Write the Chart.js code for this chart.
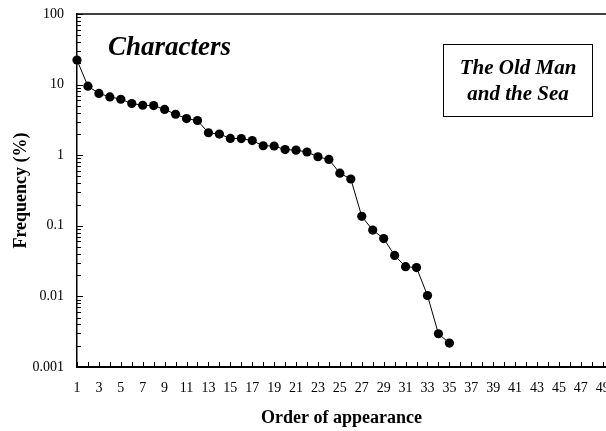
<!DOCTYPE html>
<html>
<head>
<meta charset="utf-8">
<title>Characters — The Old Man and the Sea</title>
<script src="https://cdn.jsdelivr.net/npm/chart.js@4/dist/chart.umd.min.js"></script>
<style>
  html, body { margin: 0; padding: 0; background: #fff; overflow: hidden; }
  canvas { display: block; }
</style>
</head>
<body>
<canvas id="chart" width="606" height="431"></canvas>
<script>
// Order in which each character first appears
const order = [1, 2, 3, 4, 5, 6, 7, 8, 9, 10, 11, 12, 13, 14, 15, 16, 17, 18,
  19, 20, 21, 22, 23, 24, 25, 26, 27, 28, 29, 30, 31, 32, 33, 34, 35];

// Frequency of each character (%)
const frequency = [22.3, 9.5, 7.5, 6.7, 6.2, 5.4, 5.1, 5.05, 4.45, 3.8, 3.3, 3.1,
  2.08, 1.99, 1.73, 1.72, 1.61, 1.36, 1.35, 1.2, 1.18, 1.11, 0.95, 0.87,
  0.556, 0.46, 0.136, 0.087, 0.066, 0.038, 0.0264, 0.0256, 0.0103, 0.00296, 0.00218];

// Decade labels on the frequency axis
const yTickValues = [0.001, 0.01, 0.1, 1, 10, 100];
const yTickLabels = ['0.001', '0.01', '0.1', '1', '10', '100'];

const panelTitle = 'Characters';
const bookTitle = ['The Old Man', 'and the Sea'];

const SERIF = '"Liberation Serif", "Times New Roman", serif';

// Inward tick marks, top frame line and the text annotations
const frameAndNotes = {
  id: 'frameAndNotes',
  afterDraw(chart) {
    const ctx = chart.ctx;
    const area = chart.chartArea;
    const xs = chart.scales.x;
    const ys = chart.scales.y;
    ctx.save();
    ctx.strokeStyle = '#000';

    // top frame line
    ctx.lineWidth = 1.5;
    ctx.beginPath();
    ctx.moveTo(area.left, area.top);
    ctx.lineTo(chart.width, area.top);
    ctx.stroke();

    // x tick marks pointing up into the plot
    ctx.lineWidth = 1;
    ctx.beginPath();
    xs.ticks.forEach(t => {
      const px = Math.round(xs.getPixelForValue(t.value)) + 0.5;
      ctx.moveTo(px, area.bottom);
      ctx.lineTo(px, area.bottom - 5);
    });
    ctx.stroke();

    // y tick marks pointing right into the plot
    ctx.beginPath();
    for (let e = -3; e <= 2; e++) {
      const base = Math.pow(10, e);
      const py = Math.round(ys.getPixelForValue(base)) + 0.5;
      ctx.moveTo(area.left, py);
      ctx.lineTo(area.left + 6, py);
      if (e < 2) {
        for (let m = 2; m <= 9; m++) {
          const my = Math.round(ys.getPixelForValue(m * base)) + 0.5;
          ctx.moveTo(area.left, my);
          ctx.lineTo(area.left + 4, my);
        }
      }
    }
    ctx.stroke();

    // panel title
    ctx.fillStyle = '#000';
    ctx.textBaseline = 'alphabetic';
    ctx.textAlign = 'left';
    ctx.font = 'italic bold 27px ' + SERIF;
    ctx.fillText(panelTitle, 108, 55);

    // book title box
    ctx.lineWidth = 1;
    ctx.strokeRect(443.5, 44.5, 149, 72);
    ctx.textAlign = 'center';
    ctx.font = 'italic bold 21px ' + SERIF;
    ctx.fillText(bookTitle[0], 518, 74);
    ctx.fillText(bookTitle[1], 518, 100);
    ctx.restore();
  }
};

new Chart(document.getElementById('chart'), {
  type: 'line',
  data: {
    datasets: [{
      data: order.map((o, i) => ({ x: o, y: frequency[i] })),
      borderColor: '#000',
      borderWidth: 1,
      backgroundColor: '#000',
      pointBackgroundColor: '#000',
      pointBorderColor: '#000',
      pointBorderWidth: 0,
      pointRadius: 4.6,
      tension: 0,
      fill: false,
      clip: false
    }]
  },
  options: {
    responsive: false,
    devicePixelRatio: 1,
    animation: false,
    layout: { autoPadding: false, padding: { top: 14, right: 0, bottom: 0, left: 0 } },
    plugins: {
      legend: { display: false },
      tooltip: { enabled: false }
    },
    scales: {
      x: {
        type: 'linear',
        bounds: 'data',
        min: 1,
        max: 49.3,
        grid: { display: false, drawTicks: false },
        border: { display: true, color: '#000', width: 2 },
        ticks: {
          stepSize: 1,
          autoSkip: false,
          maxRotation: 0,
          includeBounds: false,
          padding: 13,
          color: '#000',
          font: { family: SERIF, size: 14 },
          callback: v => (Number.isInteger(v) && v % 2 === 1 ? String(v) : '')
        },
        title: {
          display: true,
          text: 'Order of appearance',
          color: '#000',
          font: { family: SERIF, size: 18, weight: 'bold' },
          padding: { top: 0, bottom: 2 }
        },
        afterFit(scale) {
          scale.height = 64;
          scale.paddingLeft = 0;
          scale.paddingRight = 0;
        }
      },
      y: {
        type: 'logarithmic',
        min: 0.001,
        max: 100,
        grid: { display: false, drawTicks: false },
        border: { display: true, color: '#000', width: 1.5 },
        afterBuildTicks(scale) {
          scale.ticks = yTickValues.map(v => ({ value: v }));
        },
        ticks: {
          padding: 13,
          color: '#000',
          font: { family: SERIF, size: 14 },
          callback: v => {
            const i = yTickValues.findIndex(t => Math.abs(t - v) / t < 1e-6);
            return i >= 0 ? yTickLabels[i] : '';
          }
        },
        title: {
          display: true,
          text: 'Frequency (%)',
          color: '#000',
          font: { family: SERIF, size: 18, weight: 'bold' },
          padding: { top: 11, bottom: 0 }
        },
        afterFit(scale) {
          scale.width = 77;
          scale.paddingTop = 0;
          scale.paddingBottom = 0;
        }
      }
    }
  },
  plugins: [frameAndNotes]
});
</script>
</body>
</html>
